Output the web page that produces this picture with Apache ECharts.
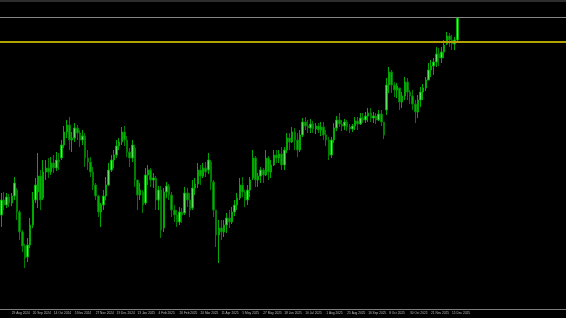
<!DOCTYPE html>
<html>
<head>
<meta charset="utf-8">
<script src="https://cdn.jsdelivr.net/npm/echarts@6/dist/echarts.min.js"></script>
<style>html,body{margin:0;padding:0;background:#000;}#c{width:566px;height:318px;}</style>
</head>
<body>
<div id="c"></div>
<script>
// Tick labels (one every 8 bars, first at bar 4)
const tickLabels = ['29 Aug 2024','20 Sep 2024','14 Oct 2024','5 Nov 2024','27 Nov 2024','19 Dec 2024','13 Jan 2025','4 Feb 2025','26 Feb 2025','20 Mar 2025','11 Apr 2025','5 May 2025','27 May 2025','18 Jun 2025','10 Jul 2025','1 Aug 2025','25 Aug 2025','16 Sep 2025','8 Oct 2025','30 Oct 2025','21 Nov 2025','15 Dec 2025'];
const slotCount = 216;
const firstTick = 4, tickStep = 8;

// Price values (arbitrary points)
const opens = [94,109,104,112,106,113,119,97,77,63,52,64,84,109,117,133,111,137,141,137,146,141,149,151,164,177,184,169,171,181,176,169,173,151,147,137,124,113,97,104,113,124,139,149,154,163,167,177,169,157,151,161,129,114,117,106,134,139,129,131,109,119,81,117,123,114,99,94,87,97,96,116,109,101,121,125,139,133,141,139,147,127,99,74,81,77,84,91,87,97,104,111,124,117,109,119,131,151,129,133,139,134,151,137,144,154,151,155,144,159,171,167,177,169,159,174,187,183,181,185,180,183,179,182,174,169,154,169,181,189,185,183,187,182,180,183,188,185,191,189,193,196,191,193,189,195,187,199,224,237,224,219,221,207,213,227,217,213,205,197,209,217,221,229,239,243,247,255,251,257,265,273,269,265,269];
const closes = [109,104,112,106,113,126,97,77,63,51,64,84,109,124,133,109,137,141,137,146,141,149,147,164,177,184,169,171,181,176,169,173,151,147,137,124,113,97,104,113,124,139,149,154,163,167,177,169,157,151,164,129,114,119,104,134,139,129,131,109,119,79,117,123,114,99,94,87,97,94,116,109,99,121,125,139,133,141,137,149,127,99,74,81,77,84,91,87,97,104,111,124,117,109,119,129,151,129,133,139,134,151,137,144,154,151,155,144,159,171,167,177,169,159,174,187,183,181,185,180,183,179,182,174,169,154,169,181,189,185,183,187,182,180,183,188,185,191,189,193,196,191,193,189,195,187,174,224,237,224,219,223,207,213,227,217,213,205,197,209,217,221,229,239,243,247,255,251,257,264,273,269,265,269,291];
const lows = [82,99,101,102,103,109,89,69,57,41,47,61,81,106,101,99,109,129,131,134,136,138,139,149,161,171,159,157,167,169,162,164,142,139,132,119,109,92,82,99,109,123,137,141,151,159,164,163,152,142,147,122,99,109,96,104,124,122,121,99,99,71,77,111,109,92,87,82,84,86,94,102,92,99,114,121,124,131,132,135,119,92,62,46,69,72,76,81,85,93,99,109,112,102,104,112,129,122,122,126,126,133,129,131,143,146,146,139,139,156,159,166,159,152,157,172,179,176,176,176,175,176,173,169,163,149,151,166,178,182,178,179,178,176,177,179,179,184,186,186,187,187,186,185,188,183,170,194,216,216,212,211,199,201,209,209,205,199,186,191,202,209,218,229,232,234,242,243,246,251,264,262,259,259,266];
const highs = [116,117,116,115,116,132,121,99,79,65,71,91,117,131,156,139,149,149,151,152,154,157,156,169,183,189,192,177,186,184,179,179,176,159,152,142,126,114,106,119,132,146,154,159,169,171,182,183,173,161,169,164,129,126,119,141,144,141,136,133,123,123,121,127,125,117,104,99,102,101,122,121,116,129,131,146,144,146,147,156,149,129,99,89,89,89,96,99,102,109,116,131,132,119,124,132,159,153,136,142,141,159,153,149,159,159,159,162,162,176,176,182,181,176,179,191,192,189,190,188,186,186,187,187,179,172,172,186,193,196,189,190,189,185,185,192,192,196,196,197,201,201,197,196,199,199,187,231,242,239,227,226,221,217,232,231,219,219,209,214,222,225,232,246,249,251,262,261,262,269,277,276,274,272,292];

const bidLevel = 292;
const hLineLevel = 267;

const categories = [];
for (let i = 0; i < slotCount; i++) {
  const k = (i - firstTick) / tickStep;
  categories.push(Number.isInteger(k) && k >= 0 && k < tickLabels.length ? tickLabels[k] : '');
}
const ohlc = opens.map((o, i) => [o, closes[i], lows[i], highs[i]]);

const chart = echarts.init(document.getElementById('c'), null, {renderer: 'canvas'});
chart.setOption({
  backgroundColor: '#000000',
  animation: false,
  graphic: [{
    type: 'rect', left: 0, top: 0, shape: {width: 566, height: 2},
    style: {fill: '#2e2e2e'}, silent: true
  }],
  grid: {left: 0, right: 0, top: 0, bottom: 9},
  xAxis: {
    type: 'category',
    data: categories,
    boundaryGap: true,
    axisLine: {lineStyle: {color: '#7c7c7c', width: 1}},
    axisTick: {show: false},
    splitLine: {show: false},
    axisLabel: {
      interval: (idx, val) => val !== '',
      color: '#bdbdbd',
      fontSize: 3.2,
      fontFamily: 'Liberation Sans',
      align: 'left',
      margin: 2.5
    }
  },
  yAxis: {type: 'value', min: 0, max: 309, show: false, splitLine: {show: false}},
  series: [{
    type: 'candlestick',
    data: ohlc,
    barWidth: 2,
    itemStyle: {
      color: '#62e262', borderColor: '#00aa00',
      color0: '#00b400', borderColor0: '#007c00',
      borderWidth: 1
    },
    markLine: {
      silent: true,
      symbol: 'none',
      label: {show: false},
      data: [
        {yAxis: bidLevel, lineStyle: {color: '#858585', width: 1, type: 'solid'}},
        {yAxis: hLineLevel, lineStyle: {color: '#b2a300', width: 2, type: 'solid'}}
      ]
    }
  }]
});
</script>
</body>
</html>
